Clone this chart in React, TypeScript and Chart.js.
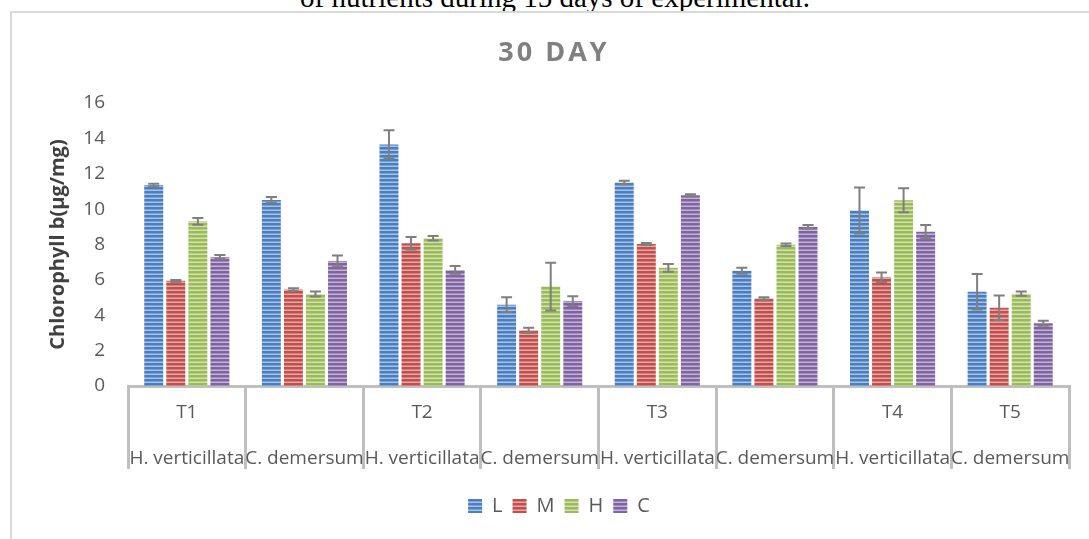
import React, { useEffect, useRef } from "react";
import { Chart, registerables } from "chart.js";

Chart.register(...registerables);

// ---- Data ----
const groupLabels = ["T1", "", "T2", "", "T3", "", "T4", "T5"];
const speciesLabels = [
  "H. verticillata",
  "C. demersum",
  "H. verticillata",
  "C. demersum",
  "H. verticillata",
  "C. demersum",
  "H. verticillata",
  "C. demersum",
];
const seriesNames = ["L", "M", "H", "C"];
const valuesL = [11.36, 10.52, 13.66, 4.6, 11.5, 6.52, 9.92, 5.33];
const valuesM = [5.95, 5.45, 8.07, 3.15, 8.03, 4.95, 6.15, 4.42];
const valuesH = [9.31, 5.2, 8.35, 5.62, 6.68, 7.98, 10.5, 5.22];
const valuesC = [7.3, 7.07, 6.56, 4.8, 10.78, 9.0, 8.72, 3.55];
const errL = [0.08, 0.16, 0.8, 0.42, 0.1, 0.17, 1.3, 1.0];
const errM = [0.05, 0.08, 0.35, 0.14, 0.06, 0.07, 0.27, 0.69];
const errH = [0.19, 0.14, 0.13, 1.35, 0.22, 0.07, 0.68, 0.12];
const errC = [0.11, 0.31, 0.22, 0.27, 0.06, 0.1, 0.38, 0.14];
const yMin = 0;
const yMax = 16;
const yStep = 2;
const chartTitle = "30 DAY";
const yAxisTitle = "Chlorophyll b(µg/mg)";
const headerText = "of nutrients during 15 days of experimental.";

const seriesValues = [valuesL, valuesM, valuesH, valuesC];
const seriesErrors = [errL, errM, errH, errC];
// [base, light, mid]
const seriesColors = [
  ["#4a7ec0", "#a9c3e4", "#7aa1d3"],
  ["#c0504d", "#e6a8a6", "#d57c7a"],
  ["#9bbb59", "#d2e3b0", "#b5cd85"],
  ["#8064a2", "#c3b5d6", "#a18bbd"],
];

function makePattern(colors: string[]) {
  const c = document.createElement("canvas");
  c.width = 4;
  c.height = 4;
  const g = c.getContext("2d")!;
  g.fillStyle = colors[0];
  g.fillRect(0, 0, 4, 4);
  g.fillStyle = colors[2];
  g.fillRect(0, 1, 4, 1);
  g.fillStyle = colors[1];
  g.fillRect(0, 2, 4, 1);
  const p = g.createPattern(c, "repeat");
  return p || colors[0];
}

const errorBarPlugin = {
  id: "errorBars",
  afterDatasetsDraw(chart: any) {
    const ctx = chart.ctx;
    const y = chart.scales.y;
    ctx.save();
    ctx.strokeStyle = "#7f7f7f";
    ctx.lineWidth = 2;
    chart.data.datasets.forEach((ds: any, i: number) => {
      const meta = chart.getDatasetMeta(i);
      const errs = seriesErrors[i];
      meta.data.forEach((bar: any, j: number) => {
        const v = ds.data[j];
        const e = errs[j];
        const yT = y.getPixelForValue(v + e);
        const yB = y.getPixelForValue(v - e);
        const x = bar.x;
        ctx.beginPath();
        ctx.moveTo(x, yT);
        ctx.lineTo(x, yB);
        ctx.moveTo(x - 5.5, yT);
        ctx.lineTo(x + 5.5, yT);
        ctx.moveTo(x - 5.5, yB);
        ctx.lineTo(x + 5.5, yB);
        ctx.stroke();
      });
    });
    ctx.restore();
  },
};

const spacedTitlePlugin = {
  id: "spacedTitle",
  afterDraw(chart: any) {
    const ctx = chart.ctx;
    ctx.save();
    (ctx as any).letterSpacing = "3px";
    ctx.font = 'bold 27px "Open Sans"';
    ctx.fillStyle = "#808080";
    ctx.textAlign = "center";
    ctx.textBaseline = "middle";
    ctx.fillText(chartTitle, 554, 53);
    ctx.restore();
  },
};

export default function App() {
  const canvasRef = useRef<HTMLCanvasElement | null>(null);

  useEffect(() => {
    if (!canvasRef.current) return;
    const labels = groupLabels.map((g, i) => [g, speciesLabels[i]]);
    const chart = new Chart(canvasRef.current, {
      type: "bar",
      data: {
        labels,
        datasets: seriesNames.map((name, i) => ({
          label: name,
          data: seriesValues[i],
          backgroundColor: makePattern(seriesColors[i]) as any,
          borderWidth: 0,
          barPercentage: 0.86,
          categoryPercentage: 0.75,
        })),
      },
      options: {
        animation: false,
        responsive: false,
        devicePixelRatio: 1,
        layout: { padding: { left: 49, right: 20, top: 103, bottom: 13 } },
        plugins: {
          title: { display: false },
          tooltip: { enabled: false },
          legend: {
            display: true,
            position: "bottom",
            labels: {
              font: { family: "Open Sans", size: 20 },
              color: "#595959",
              boxWidth: 14,
              boxHeight: 14,
              padding: 10,
            },
          },
        },
        scales: {
          x: {
            afterFit: (s: any) => {
              s.height = 100;
            },
            grid: {
              display: true,
              drawOnChartArea: false,
              drawTicks: true,
              tickLength: 83,
              color: "#bfbfbf",
              lineWidth: 3,
              offset: true,
            },
            border: { display: true, color: "#bfbfbf", width: 3 },
            ticks: {
              autoSkip: false,
              maxRotation: 0,
              minRotation: 0,
              padding: -79,
              color: "#595959",
              font: { family: "Open Sans", size: 19, lineHeight: 46 / 19 },
            },
          },
          y: {
            min: yMin,
            max: yMax,
            afterFit: (s: any) => {
              s.width = 79;
            },
            grid: { display: false },
            border: { display: false },
            ticks: {
              stepSize: yStep,
              padding: 15,
              color: "#595959",
              font: { family: "Open Sans", size: 19 },
            },
            title: {
              display: true,
              text: yAxisTitle,
              color: "#404040",
              padding: { top: 0, bottom: 0 },
              font: { family: "Open Sans", size: 20, weight: "bold", lineHeight: 0.9 },
            },
          },
        },
      },
      plugins: [errorBarPlugin, spacedTitlePlugin],
    });
    return () => chart.destroy();
  }, []);

  return (
    <div
      style={{
        position: "fixed",
        left: 0,
        top: 0,
        width: 1089,
        height: 539,
        overflow: "hidden",
        background: "#ffffff",
      }}
    >
      <div
        style={{
          position: "absolute",
          left: 0,
          top: -17,
          width: 1110,
          textAlign: "center",
          fontFamily: '"Liberation Serif", serif',
          fontSize: 29,
          lineHeight: "29px",
          color: "#000",
          whiteSpace: "nowrap",
        }}
      >
        {headerText}
      </div>
      <div
        style={{
          position: "absolute",
          left: 10,
          top: 11,
          width: 2000,
          height: 2000,
          borderLeft: "2px solid #d9d9d9",
          borderTop: "2px solid #d9d9d9",
          background: "#ffffff",
        }}
      />
      <canvas
        ref={canvasRef}
        width={1089}
        height={539}
        style={{ position: "absolute", left: 0, top: 0, width: 1089, height: 539 }}
      />
    </div>
  );
}
